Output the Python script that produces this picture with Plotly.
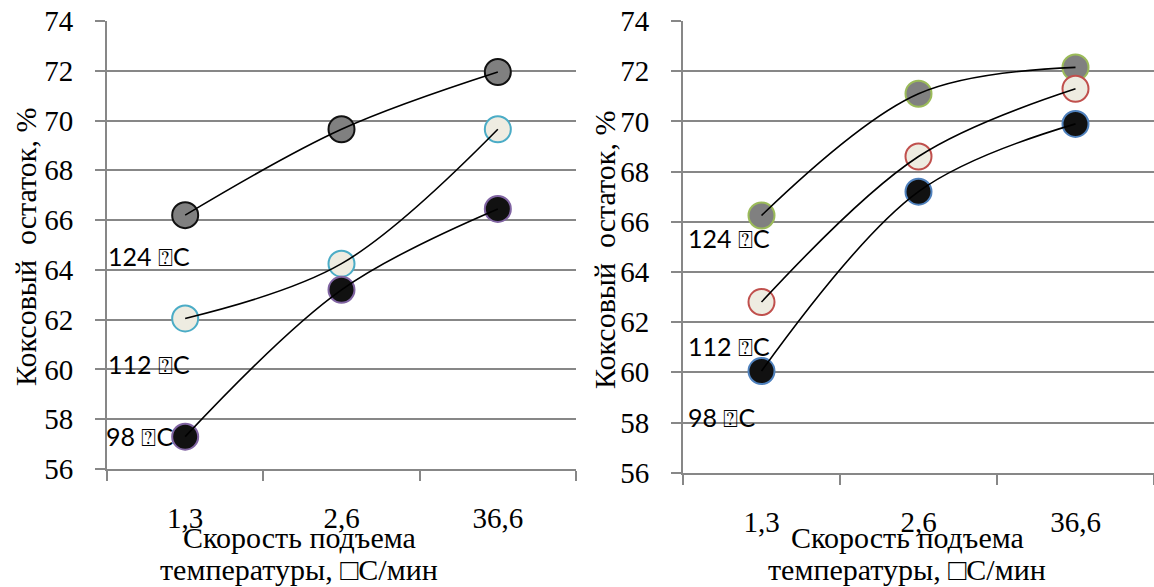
import plotly.graph_objects as go

# ---- data ----
categories = ["1,3", "2,6", "36,6"]
left_124 = [66.2, 69.65, 71.95]
left_112 = [62.05, 64.25, 69.65]
left_98 = [57.3, 63.2, 66.45]
right_124 = [66.25, 71.1, 72.15]
right_112 = [62.8, 68.6, 71.3]
right_98 = [60.05, 67.2, 69.9]
series_labels = ["124 \u2370C", "112 \u2370C", "98 \u2370C"]
y_ticks = [56, 58, 60, 62, 64, 66, 68, 70, 72, 74]

W, H = 1154, 587
GRID = "#878787"
SERIF = "Liberation Serif, Times New Roman, serif"


def fx(px):
    return px / W


def fy(py):
    return 1 - py / H


fig = go.Figure()


def add_series(xa, ya, vals, fill, outline):
    fig.add_trace(go.Scatter(x=categories, y=vals, mode="markers", xaxis=xa, yaxis=ya,
                             marker=dict(size=26, color=fill, line=dict(color=outline, width=2)),
                             showlegend=False, hoverinfo="skip"))


def add_line(xa, ya, vals):
    fig.add_trace(go.Scatter(x=categories, y=vals, mode="lines", xaxis=xa, yaxis=ya,
                             line=dict(color="black", width=1.6, shape="spline", smoothing=1),
                             showlegend=False, hoverinfo="skip"))


# left panel
add_series("x", "y", left_124, "#808080", "#111111")
add_series("x", "y", left_112, "#EEECE1", "#4BACC6")
add_series("x", "y", left_98, "#111111", "#8064A2")
for v in (left_124, left_112, left_98):
    add_line("x", "y", v)
# right panel
add_series("x2", "y2", right_124, "#808080", "#9BBB59")
add_series("x2", "y2", right_112, "#EEECE1", "#C0504D")
add_series("x2", "y2", right_98, "#111111", "#4F81BD")
for v in (right_124, right_112, right_98):
    add_line("x2", "y2", v)

tickfont = dict(family=SERIF, size=29, color="black")

xcommon = dict(type="category", tickson="boundaries", ticks="outside", ticklen=10,
               tickwidth=2, tickcolor=GRID, showgrid=False, showline=True, linecolor=GRID,
               linewidth=2, tickfont=tickfont, ticklabelstandoff=22, automargin=False,
               ticklabeloverflow="allow",
               categoryorder="array", categoryarray=categories, range=[-0.5, 2.5])
ycommon = dict(range=[56, 74], tickvals=y_ticks, ticks="outside", ticklen=10, tickwidth=2,
               tickcolor=GRID, showgrid=True, gridcolor=GRID, gridwidth=2, showline=True,
               linecolor=GRID, linewidth=2, zeroline=False, tickfont=tickfont,
               ticklabelstandoff=16, automargin=False, ticklabeloverflow="allow")

fig.update_layout(
    width=W, height=H, margin=dict(l=0, r=0, t=0, b=0, pad=0, autoexpand=False),
    paper_bgcolor="white", plot_bgcolor="white",
    xaxis=dict(domain=[fx(107), fx(576)], anchor="y", **xcommon),
    yaxis=dict(domain=[fy(469), fy(21)], anchor="x", **ycommon),
    xaxis2=dict(domain=[fx(683), 1.0], anchor="y2", **xcommon),
    yaxis2=dict(domain=[fy(472.7), fy(21)], anchor="x2", **ycommon),
)

ann = []
lab_font = dict(family="Lato, Noto Sans, sans-serif", size=25, color="black")
for txt, px, py in zip(series_labels, [106, 106, 104], [256, 364, 436]):
    ann.append(dict(text=txt, x=fx(px), y=fy(py), xref="paper", yref="paper",
                    xanchor="left", yanchor="middle", showarrow=False, font=lab_font))
for txt, px, py in zip(series_labels, [686, 686, 686], [238, 346, 417]):
    ann.append(dict(text=txt, x=fx(px), y=fy(py), xref="paper", yref="paper",
                    xanchor="left", yanchor="middle", showarrow=False, font=lab_font))

title_font = dict(family=SERIF, size=30, color="black")
ytitle = "Коксовый  остаток, %"
for px, py in [(25, 247), (604, 250)]:
    ann.append(dict(text=ytitle, x=fx(px), y=fy(py), xref="paper", yref="paper",
                    xanchor="center", yanchor="middle", textangle=-90, showarrow=False,
                    font=title_font))
xt1 = "Скорость подъема"
xt2 = "температуры, \u25a1C/мин"
for cx in [299, 907]:
    ann.append(dict(text=xt1, x=fx(cx), y=fy(537), xref="paper", yref="paper",
                    xanchor="center", yanchor="middle", showarrow=False, font=title_font))
    ann.append(dict(text=xt2, x=fx(cx), y=fy(569), xref="paper", yref="paper",
                    xanchor="center", yanchor="middle", showarrow=False, font=title_font))
fig.update_layout(annotations=ann)

fig.write_html("out.html", config={"displayModeBar": False},
               post_script="document.body.style.margin='0';document.body.style.overflow='hidden';")
